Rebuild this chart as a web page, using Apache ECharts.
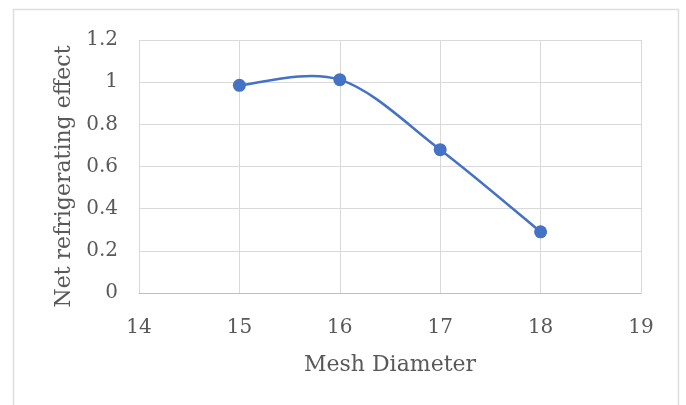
<!DOCTYPE html>
<html><head><meta charset="utf-8">
<script src="https://cdn.jsdelivr.net/npm/echarts@6/dist/echarts.min.js"></script>
<style>html,body{margin:0;padding:0;background:#fff}#c{width:686px;height:405px}</style>
</head><body><div id="c"></div>
<script>
const meshDiameter = [15, 16, 17, 18];
const netRefrigeratingEffect = [0.985, 1.012, 0.68, 0.29];
const xTicks = [14, 15, 16, 17, 18, 19];
const yTicks = [0, 0.2, 0.4, 0.6, 0.8, 1, 1.2];

const points = meshDiameter.map((x, i) => [x, netRefrigeratingEffect[i]]);
const chart = echarts.init(document.getElementById('c'));
const font = '"DejaVu Serif", "Liberation Serif", serif';
const textColor = '#595959';
const lineColor = '#4472C4';

// Smooth (Catmull-Rom style) segment between consecutive points, through the axis scales
function renderSegment(params, api) {
  const i = params.dataIndex;
  const n = points.length;
  if (i >= n - 1) return null;
  const p = k => api.coord(points[Math.max(0, Math.min(n - 1, k))]);
  const p0 = p(i - 1), p1 = p(i), p2 = p(i + 1), p3 = p(i + 2);
  return {
    type: 'bezierCurve',
    shape: {
      x1: p1[0], y1: p1[1], x2: p2[0], y2: p2[1],
      cpx1: p1[0] + (p2[0] - p0[0]) / 6, cpy1: p1[1] + (p2[1] - p0[1]) / 6,
      cpx2: p2[0] - (p3[0] - p1[0]) / 6, cpy2: p2[1] - (p3[1] - p1[1]) / 6
    },
    style: {fill: 'none', stroke: lineColor, lineWidth: 2.5}
  };
}

chart.setOption({
  animation: false,
  backgroundColor: '#fff',
  graphic: [{
    type: 'rect', shape: {x: 13.5, y: 9.5, width: 665, height: 420},
    style: {fill: 'none', stroke: '#dedede', lineWidth: 1.5}, silent: true
  }],
  grid: {left: 139, right: 45, top: 40, bottom: 112},
  xAxis: {
    type: 'value', min: 14, max: 19, interval: 1,
    name: 'Mesh Diameter', nameLocation: 'middle', nameGap: 61,
    nameTextStyle: {fontFamily: font, fontSize: 22, color: textColor},
    axisLine: {show: true, lineStyle: {color: '#bfbfbf', width: 1}},
    axisTick: {show: false},
    axisLabel: {fontFamily: font, fontSize: 20, color: textColor, margin: 25,
      formatter: v => xTicks.includes(v) ? String(v) : ''},
    splitLine: {show: true, lineStyle: {color: '#d9d9d9', width: 1}}
  },
  yAxis: {
    type: 'value', min: 0, max: 1.2, interval: 0.2,
    name: 'Net refrigerating effect', nameLocation: 'middle', nameGap: 63,
    nameTextStyle: {fontFamily: font, fontSize: 22, color: textColor, padding: [0, 20, 0, 0]},
    axisLine: {show: false},
    axisTick: {show: false},
    axisLabel: {fontFamily: font, fontSize: 20, color: textColor, margin: 21,
      formatter: v => { const t = yTicks.find(x => Math.abs(x - v) < 1e-9); return t === undefined ? '' : String(+t.toFixed(1)); }},
    splitLine: {show: true, lineStyle: {color: '#d9d9d9', width: 1}}
  },
  series: [{
    type: 'custom',
    data: points,
    renderItem: renderSegment,
    z: 2
  }, {
    type: 'scatter',
    data: points,
    symbol: 'circle', symbolSize: 13,
    itemStyle: {color: lineColor, opacity: 1},
    z: 3
  }]
});
</script></body></html>
